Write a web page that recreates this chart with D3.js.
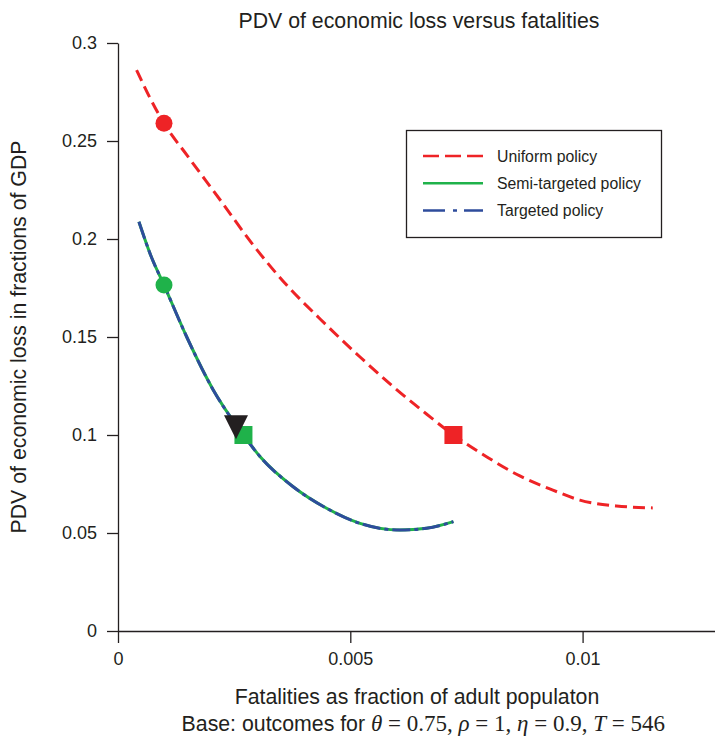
<!DOCTYPE html>
<html>
<head>
<meta charset="utf-8">
<script src="https://cdn.jsdelivr.net/npm/d3@7"></script>
<style>
  body { margin: 0; background: #fff; }
  svg { display: block; font-family: "Liberation Sans", Arial, sans-serif; }
</style>
</head>
<body>
<svg id="chart" width="715" height="739"></svg>
<script>
// fatalities (fraction of adult population) and PDV loss (fraction of GDP)
var uniformFat = [0.00040, 0.00069, 0.00099, 0.00148, 0.00220, 0.00291, 0.00363, 0.00435, 0.00521, 0.00593, 0.00664, 0.00722, 0.00794, 0.00865, 0.00936, 0.00994, 0.01073, 0.01151];
var uniformLoss = [0.2862, 0.2719, 0.2590, 0.2429, 0.2199, 0.1969, 0.1765, 0.1592, 0.1398, 0.1245, 0.1107, 0.1000, 0.0888, 0.0791, 0.0719, 0.0668, 0.0638, 0.0628];
var semiFat = [0.00045, 0.00071, 0.00099, 0.00148, 0.00205, 0.00270, 0.00306, 0.00377, 0.00449, 0.00521, 0.00607, 0.00664, 0.00722];
var semiLoss = [0.2088, 0.1913, 0.1765, 0.1500, 0.1230, 0.1000, 0.0889, 0.0736, 0.0626, 0.0549, 0.0515, 0.0524, 0.0558];
var targetedFat = semiFat.slice();
var targetedLoss = semiLoss.slice();

// highlighted points
var circlePoints = [{x: 0.00099, y: 0.2590, c: "red"}, {x: 0.00099, y: 0.1765, c: "green"}];
var squarePoints = [{x: 0.00722, y: 0.1000, c: "red"}, {x: 0.00270, y: 0.1000, c: "green"}];
var trianglePoints = [{x: 0.00254, y: 0.1060}];

var xTicks = [0, 0.005, 0.01];
var yTicks = [0, 0.05, 0.1, 0.15, 0.2, 0.25, 0.3];
var legendNames = ["Uniform policy", "Semi-targeted policy", "Targeted policy"];

var colors = {red: "#ee2326", green: "#1fb24a", blue: "#2e4c9c", ink: "#231f20"};

var svg = d3.select("#chart");

var x = d3.scaleLinear().domain([0, 0.01285]).range([118, 715]);
var y = d3.scaleLinear().domain([0, 0.3]).range([631, 43]);

function fmt(d) { return d === 0 ? "0" : String(+d.toFixed(3)); }

//axes
var xAxis = svg.append("g")
    .attr("transform", "translate(0," + y(0) + ")")
    .call(d3.axisBottom(x).tickValues(xTicks).tickFormat(fmt).tickSize(12).tickSizeOuter(0).tickPadding(9));
var yAxis = svg.append("g")
    .attr("transform", "translate(" + x(0) + ",0)")
    .call(d3.axisLeft(y).tickValues(yTicks).tickFormat(fmt).tickSize(11).tickSizeOuter(0).tickPadding(10));
[xAxis, yAxis].forEach(function(a) {
    a.selectAll("path, line").attr("stroke", colors.ink).attr("stroke-width", 1.3);
    a.selectAll("text").attr("fill", colors.ink).style("font-size", "18px")
        .style("font-family", "'Liberation Sans', Arial, sans-serif");
});

//curves
var line = d3.line().x(function(d) { return x(d[0]); }).y(function(d) { return y(d[1]); })
    .curve(d3.curveMonotoneX);
function zipped(a, b) { return a.map(function(v, i) { return [v, b[i]]; }); }

svg.append("path").datum(zipped(semiFat, semiLoss))
    .attr("d", line).attr("fill", "none").attr("stroke", colors.green).attr("stroke-width", 3);
svg.append("path").datum(zipped(targetedFat, targetedLoss))
    .attr("d", line).attr("fill", "none").attr("stroke", colors.blue).attr("stroke-width", 3)
    .attr("stroke-dasharray", "18,4,4,4");
svg.append("path").datum(zipped(uniformFat, uniformLoss))
    .attr("d", line).attr("fill", "none").attr("stroke", colors.red).attr("stroke-width", 3)
    .attr("stroke-dasharray", "12,6");

//markers
svg.selectAll("circle.mk").data(circlePoints).enter().append("circle")
    .attr("cx", function(d) { return x(d.x); })
    .attr("cy", function(d) { return y(d.y); })
    .attr("r", 8.5)
    .attr("fill", function(d) { return colors[d.c]; });
svg.selectAll("rect.mk").data(squarePoints).enter().append("rect")
    .attr("x", function(d) { return x(d.x) - 9; })
    .attr("y", function(d) { return y(d.y) - 9; })
    .attr("width", 18).attr("height", 18)
    .attr("fill", function(d) { return colors[d.c]; });
svg.selectAll("path.tri").data(trianglePoints).enter().append("path")
    .attr("transform", function(d) { return "translate(" + x(d.x) + "," + y(d.y) + ")"; })
    .attr("d", "M-12,-8L12,-8L0,16Z")
    .attr("fill", colors.ink);

//legend
var lg = svg.append("g");
lg.append("rect").attr("x", 406.5).attr("y", 130.5).attr("width", 255).attr("height", 107)
    .attr("fill", "#fff").attr("stroke", colors.ink).attr("stroke-width", 1.3);
var legStyles = [
    {c: colors.red, dash: "16,6"},
    {c: colors.green, dash: null},
    {c: colors.blue, dash: "22,8,4,7"}
];
legendNames.forEach(function(name, i) {
    var yy = 156 + i * 27.3;
    lg.append("line").attr("x1", 423).attr("x2", 483).attr("y1", yy).attr("y2", yy)
        .attr("stroke", legStyles[i].c).attr("stroke-width", 2.5)
        .attr("stroke-dasharray", legStyles[i].dash);
    lg.append("text").attr("x", 497).attr("y", yy + 5.5).text(name)
        .attr("fill", colors.ink).style("font-size", "15.8px");
});

//titles
svg.append("text").attr("x", 419).attr("y", 28).attr("text-anchor", "middle")
    .attr("fill", colors.ink).style("font-size", "21.3px").text("PDV of economic loss versus fatalities");
svg.append("text").attr("x", 417).attr("y", 704).attr("text-anchor", "middle")
    .attr("fill", colors.ink).style("font-size", "21.3px").text("Fatalities as fraction of adult populaton");
svg.append("text").attr("transform", "translate(26," + ((y(0) + y(0.3)) / 2) + ") rotate(-90)")
    .attr("text-anchor", "middle").attr("fill", colors.ink).style("font-size", "21.3px")
    .text("PDV of economic loss in fractions of GDP");

var sub = svg.append("text").attr("x", 665).attr("y", 731).attr("text-anchor", "end")
    .attr("fill", colors.ink).style("font-size", "21.3px");
sub.append("tspan").text("Base: outcomes for ");
var mathParts = [["θ", true], [" = 0.75, ", false], ["ρ", true], [" = 1, ", false], ["η", true], [" = 0.9, ", false], ["T", true], [" = 546", false]];
mathParts.forEach(function(p) {
    sub.append("tspan").text(p[0])
        .style("font-family", "'Liberation Serif', 'Times New Roman', serif")
        .style("font-size", "23px")
        .style("font-style", p[1] ? "italic" : "normal");
});
</script>
</body>
</html>
